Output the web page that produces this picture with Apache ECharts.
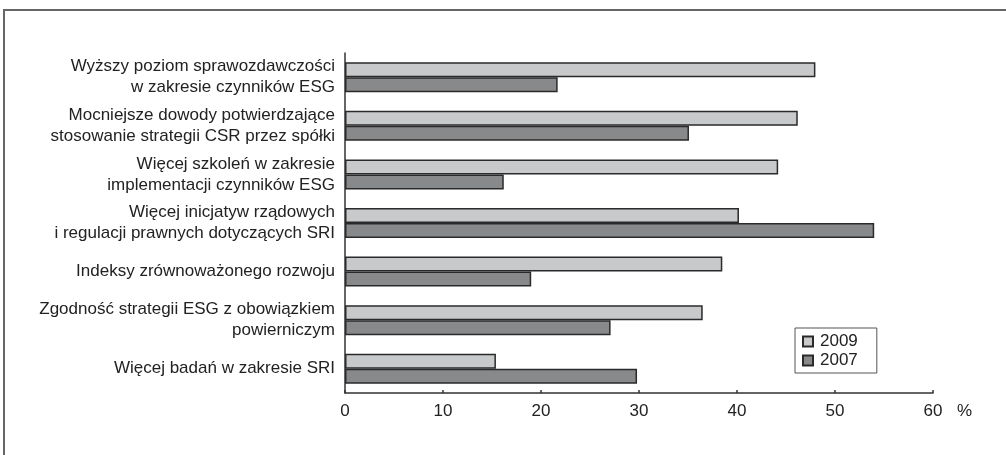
<!DOCTYPE html>
<html>
<head>
<meta charset="utf-8">
<script src="https://cdn.jsdelivr.net/npm/echarts@6/dist/echarts.min.js"></script>
<style>
html,body{margin:0;padding:0;background:#fff;}
#chart{width:1006px;height:455px;}
</style>
</head>
<body>
<div id="chart"></div>
<script>
const categories = [
  "Wyższy poziom sprawozdawczości\nw zakresie czynników ESG",
  "Mocniejsze dowody potwierdzające\nstosowanie strategii CSR przez spółki",
  "Więcej szkoleń w zakresie\nimplementacji czynników ESG",
  "Więcej inicjatyw rządowych\ni regulacji prawnych dotyczących SRI",
  "Indeksy zrównoważonego rozwoju",
  "Zgodność strategii ESG z obowiązkiem\npowierniczym",
  "Więcej badań w zakresie SRI"
];
const seriesNames = ["2009", "2007"];
const values2009 = [48.0, 46.2, 44.2, 40.2, 38.5, 36.5, 15.4];
const values2007 = [21.7, 35.1, 16.2, 54.0, 19.0, 27.1, 29.8];
const xTicks = { min: 0, max: 60, interval: 10 };
const unitLabel = "%";

const FONT = "Liberation Sans";
const chart = echarts.init(document.getElementById('chart'), null, {renderer: 'canvas'});
chart.setOption({
  animation: false,
  backgroundColor: '#ffffff',
  textStyle: { fontFamily: FONT, color: '#222' },
  graphic: [{
    type: 'rect',
    shape: { x: 4, y: 10, width: 1020, height: 470 },
    style: { fill: 'none', stroke: '#666', lineWidth: 2 },
    silent: true, z: -1
  }],
  grid: { left: 345, right: 73, top: 53, bottom: 62 },
  legend: {
    left: 795, top: 328,
    orient: 'vertical',
    data: seriesNames,
    icon: 'rect',
    itemWidth: 10, itemHeight: 10, itemGap: 2,
    borderColor: '#555', borderWidth: 1,
    padding: [5, 19, 4, 7],
    textStyle: { fontSize: 17, color: '#222', fontFamily: FONT, padding: [0, 0, 0, 2] },
    selectedMode: false
  },
  xAxis: {
    type: 'value',
    min: xTicks.min, max: xTicks.max, interval: xTicks.interval,
    name: unitLabel,
    nameLocation: 'end',
    nameGap: 24,
    nameTextStyle: { fontSize: 17, color: '#222', verticalAlign: 'top', padding: [10, 0, 0, 0] },
    axisLine: { show: true, lineStyle: { color: '#333', width: 1.5 } },
    axisTick: { show: true, inside: true, length: 3, lineStyle: { color: '#333', width: 1.5 } },
    axisLabel: { fontSize: 17, color: '#222', margin: 10 },
    splitLine: { show: false }
  },
  yAxis: {
    type: 'category',
    inverse: true,
    data: categories,
    axisLine: { show: true, lineStyle: { color: '#333', width: 1.5 } },
    axisTick: { show: false },
    axisLabel: { fontSize: 17, color: '#222', margin: 10, lineHeight: 21, align: 'right' }
  },
  series: [
    {
      name: seriesNames[0], type: 'bar', data: values2009,
      barWidth: 15, barGap: '0%',
      itemStyle: { color: '#c8c9ca', borderColor: '#2a2a2a', borderWidth: 1.5 }
    },
    {
      name: seriesNames[1], type: 'bar', data: values2007,
      barWidth: 15, barGap: '0%',
      itemStyle: { color: '#88898b', borderColor: '#2a2a2a', borderWidth: 1.5 }
    }
  ]
});
</script>
</body>
</html>
